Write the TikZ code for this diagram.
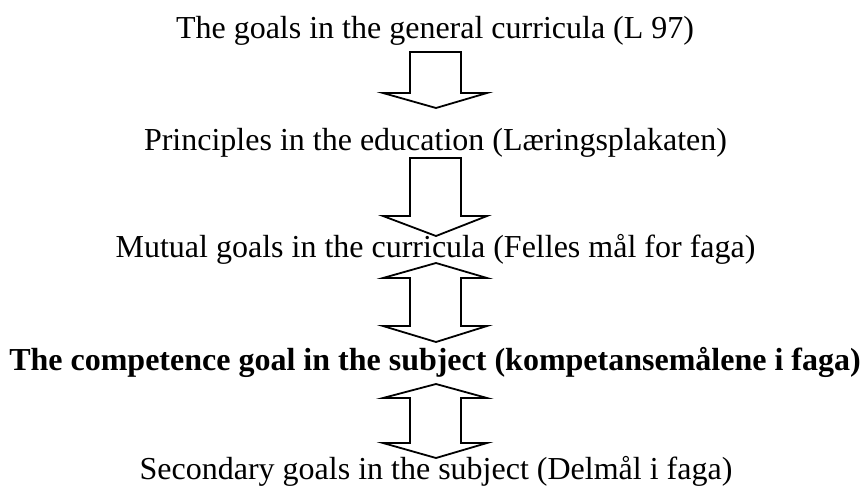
\documentclass[tikz,border=0pt]{standalone}
\usepackage{fontspec}
\setmainfont{Liberation Serif}
\begin{document}
\begin{tikzpicture}[x=1pt,y=-1pt,
  lbl/.style={anchor=base,inner sep=0pt,font=\fontsize{32}{38}\selectfont},
  blk/.style={draw=black,line width=1.8pt,line join=miter,fill=white}]
\useasboundingbox (0,0) rectangle (864,487);
\node[lbl] (t1) at (435,38) {The goals in the general curricula (L 97)};
\node[lbl] (t2) at (435.5,150) {Principles in the education (Læringsplakaten)};
\node[lbl] (t3) at (435.5,257) {Mutual goals in the curricula (Felles mål for faga)};
\node[lbl,font=\fontsize{32}{38}\selectfont\bfseries] (t4) at (435,370) {The competence goal in the subject (kompetansemålene i faga)};
\node[lbl] (t5) at (436,479) {Secondary goals in the subject (Delmål i faga)};
% arrow 1
\draw[blk] (410,52) -- (461,52) -- (461,93) -- (487,93) -- (436,108) -- (383,93) -- (410,93) -- cycle;
% arrow 2
\draw[blk] (410,158) -- (461,158) -- (461,216) -- (487,216) -- (436,236) -- (383,216) -- (410,216) -- cycle;
% arrow 3
\draw[blk] (436,263) -- (487,278) -- (461,278) -- (461,326) -- (487,326) -- (436,342) -- (383,326) -- (410,326) -- (410,278) -- (383,278) -- cycle;
% arrow 4
\draw[blk] (436,384) -- (487,398) -- (461,398) -- (461,443) -- (487,443) -- (436,458) -- (383,443) -- (410,443) -- (410,398) -- (383,398) -- cycle;
\end{tikzpicture}
\end{document}
